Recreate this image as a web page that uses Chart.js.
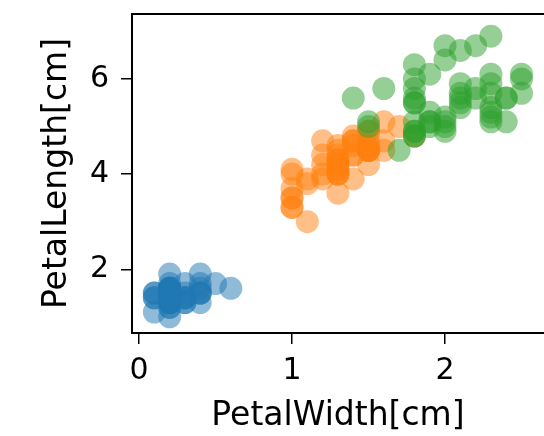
<!DOCTYPE html>
<html>
<head>
<meta charset="utf-8">
<script src="https://cdn.jsdelivr.net/npm/chart.js@4/dist/chart.umd.min.js"></script>
<style>
  html, body { margin: 0; padding: 0; background: #fff; overflow: hidden; }
  canvas { display: block; }
</style>
</head>
<body>
<canvas id="iris" width="544" height="436"></canvas>
<script>
// Iris petal measurements, one pair of arrays per species
const setosaWidth = [0.2,0.2,0.2,0.2,0.2,0.4,0.3,0.2,0.2,0.1,0.2,0.2,0.1,0.1,0.2,0.4,0.4,0.3,0.3,0.3,0.2,0.4,0.2,0.5,0.2,0.2,0.4,0.2,0.2,0.2,0.2,0.4,0.1,0.2,0.2,0.2,0.2,0.1,0.2,0.2,0.3,0.3,0.2,0.6,0.4,0.3,0.2,0.2,0.2,0.2];
const setosaLength = [1.4,1.4,1.3,1.5,1.4,1.7,1.4,1.5,1.4,1.5,1.5,1.6,1.4,1.1,1.2,1.5,1.3,1.4,1.7,1.5,1.7,1.5,1.0,1.7,1.9,1.6,1.6,1.5,1.4,1.6,1.6,1.5,1.5,1.4,1.5,1.2,1.3,1.4,1.3,1.5,1.3,1.3,1.3,1.6,1.9,1.4,1.6,1.4,1.5,1.4];

const versicolorWidth = [1.4,1.5,1.5,1.3,1.5,1.3,1.6,1.0,1.3,1.4,1.0,1.5,1.0,1.4,1.3,1.4,1.5,1.0,1.5,1.1,1.8,1.3,1.5,1.2,1.3,1.4,1.4,1.7,1.5,1.0,1.1,1.0,1.2,1.6,1.5,1.6,1.5,1.3,1.3,1.3,1.2,1.4,1.2,1.0,1.3,1.2,1.3,1.3,1.1,1.3];
const versicolorLength = [4.7,4.5,4.9,4.0,4.6,4.5,4.7,3.3,4.6,3.9,3.5,4.2,4.0,4.7,3.6,4.4,4.5,4.1,4.5,3.9,4.8,4.0,4.9,4.7,4.3,4.4,4.8,5.0,4.5,3.5,3.8,3.7,3.9,5.1,4.5,4.5,4.7,4.4,4.1,4.0,4.4,4.6,4.0,3.3,4.2,4.2,4.2,4.3,3.0,4.1];

const virginicaWidth = [2.5,1.9,2.1,1.8,2.2,2.1,1.7,1.8,1.8,2.5,2.0,1.9,2.1,2.0,2.4,2.3,1.8,2.2,2.3,1.5,2.3,2.0,2.0,1.8,2.1,1.8,1.8,1.8,2.1,1.6,1.9,2.0,2.2,1.5,1.4,2.3,2.4,1.8,1.8,2.1,2.4,2.3,1.9,2.3,2.5,2.3,1.9,2.0,2.3,1.8];
const virginicaLength = [6.0,5.1,5.9,5.6,5.8,6.6,4.5,6.3,5.8,6.1,5.1,5.3,5.5,5.0,5.1,5.3,5.5,6.7,6.9,5.0,5.7,4.9,6.7,4.9,5.7,6.0,4.8,4.9,5.6,5.8,6.1,6.4,5.6,5.1,5.6,6.1,5.6,5.5,4.8,5.4,5.6,5.1,5.1,5.9,5.7,5.2,5.0,5.2,5.4,5.1];

const xTicks = [0, 1, 2];
const yTicks = [2, 4, 6];

function toPoints(xs, ys) {
  return xs.map((x, i) => ({ x: x, y: ys[i] }));
}

function makeSet(xs, ys, color, order) {
  return {
    data: toPoints(xs, ys),
    backgroundColor: color,
    borderWidth: 0,
    pointRadius: 11.5,
    pointHoverRadius: 11.5,
    order: order
  };
}

const tickFont = { family: "DejaVu Sans", size: 30 };
const titleFont = { family: "DejaVu Sans", size: 33 };

// top spine (matplotlib-style frame, right side is cut off by the window)
const topSpine = {
  id: "topSpine",
  afterDraw(chart) {
    const { ctx, chartArea } = chart;
    ctx.save();
    ctx.strokeStyle = "#000";
    ctx.lineWidth = 2;
    ctx.beginPath();
    ctx.moveTo(chartArea.left - 1, chartArea.top);
    ctx.lineTo(chartArea.right, chartArea.top);
    ctx.stroke();
    ctx.restore();
  }
};

new Chart(document.getElementById("iris"), {
  type: "scatter",
  data: {
    datasets: [
      makeSet(setosaWidth, setosaLength, "rgba(31,119,180,0.5)", 2),
      makeSet(versicolorWidth, versicolorLength, "rgba(255,127,14,0.5)", 1),
      makeSet(virginicaWidth, virginicaLength, "rgba(44,160,44,0.5)", 0)
    ]
  },
  plugins: [topSpine],
  options: {
    responsive: false,
    animation: false,
    layout: { autoPadding: false, padding: { top: 14, right: 0, bottom: 0, left: 0 } },
    plugins: { legend: { display: false }, tooltip: { enabled: false } },
    scales: {
      x: {
        type: "linear",
        min: -0.046,
        max: 2.647,
        afterFit: (s) => { s.height = 103; s.paddingRight = 0; s.paddingLeft = 0; },
        afterBuildTicks: (s) => { s.ticks = xTicks.map(v => ({ value: v })); },
        border: { display: true, color: "#000", width: 2 },
        grid: { drawOnChartArea: false, drawTicks: true, tickLength: 11, color: "#000", lineWidth: 1.5 },
        ticks: { font: tickFont, color: "#000", padding: 9 },
        title: { display: true, text: "PetalWidth[cm]", font: titleFont, color: "#000", padding: { top: 4, bottom: 0 } }
      },
      y: {
        type: "linear",
        min: 0.66,
        max: 7.366,
        afterFit: (s) => { s.width = 132; s.paddingTop = 0; s.paddingBottom = 0; },
        afterBuildTicks: (s) => { s.ticks = yTicks.map(v => ({ value: v })); },
        border: { display: true, color: "#000", width: 2 },
        grid: { drawOnChartArea: false, drawTicks: true, tickLength: 11, color: "#000", lineWidth: 1.5 },
        ticks: { font: tickFont, color: "#000", padding: 12 },
        title: { display: true, text: "PetalLength[cm]", font: titleFont, color: "#000", padding: { top: 38, bottom: 0 } }
      }
    }
  }
});
</script>
</body>
</html>
